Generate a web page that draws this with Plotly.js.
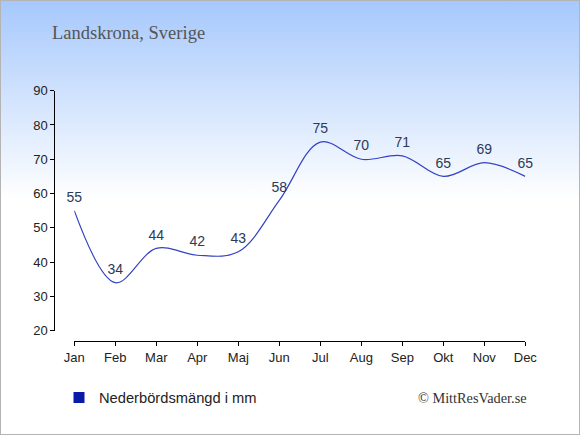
<!DOCTYPE html>
<html>
<head>
<meta charset="utf-8">
<script src="https://cdn.plot.ly/plotly-3.0.1.min.js"></script>
<style>
html,body{margin:0;padding:0;}
#wrap{position:relative;width:580px;height:435px;background:linear-gradient(to bottom,#a6c8fc 0px,#ffffff 200px,#ffffff 435px);}
#chart{position:absolute;left:0;top:0;width:580px;height:435px;}
#frame{position:absolute;left:0;top:0;width:580px;height:435px;box-sizing:border-box;border:1.5px solid #b4b4b4;pointer-events:none;}
</style>
</head>
<body>
<div id="wrap"><div id="chart"></div><div id="frame"></div></div>
<script>
const months = ["Jan","Feb","Mar","Apr","Maj","Jun","Jul","Aug","Sep","Okt","Nov","Dec"];
const precipitation = [55,34,44,42,43,58,75,70,71,65,69,65];
const yTicks = [20,30,40,50,60,70,80,90];
const seriesName = "Nederbördsmängd i mm";
const chartTitle = "Landskrona, Sverige";
const credit = "© MittResVader.se";

const W = 580, H = 435;
const idx = months.map((m,i)=>i);

const traces = [
  {
    x: idx, y: precipitation, type: "scatter", mode: "lines+markers+text",
    line: {shape: "spline", color: "#3442c4", width: 1.2},
    marker: {size: 7, color: "rgba(0,0,0,0)"},
    text: precipitation.map(String), textposition: "top center",
    textfont: {family: "Liberation Sans, Arial, sans-serif", size: 14, color: "#2b3a58"},
    showlegend: false, hoverinfo: "skip", cliponaxis: false
  },
  {
    x: [null], y: [null], type: "scatter", mode: "markers", name: seriesName,
    marker: {symbol: "square", size: 11, color: "#0a1aa8"},
    showlegend: true
  }
];

const layout = {
  width: W, height: H,
  margin: {l: 0, r: 0, t: 0, b: 0},
  paper_bgcolor: "rgba(0,0,0,0)", plot_bgcolor: "rgba(0,0,0,0)",
  font: {family: "Liberation Sans, Arial, sans-serif", color: "#222"},
  xaxis: {
    range: [0, 11], domain: [74.3/W, 525.3/W],
    anchor: "free", position: (H-341.3)/H,
    tickmode: "array", tickvals: idx, ticktext: months,
    showline: true, linecolor: "#000", linewidth: 1,
    ticks: "outside", ticklen: 4, tickcolor: "#000",
    showgrid: false, zeroline: false,
    tickfont: {size: 13, color: "#222"}, fixedrange: true
  },
  yaxis: {
    range: [20, 90], domain: [(H-330.7)/H, (H-90.7)/H],
    anchor: "free", position: 54.3/W,
    tickmode: "array", tickvals: yTicks,
    showline: true, linecolor: "#000", linewidth: 1,
    ticks: "outside", ticklen: 4, tickcolor: "#000",
    showgrid: false, zeroline: false,
    tickfont: {size: 13, color: "#222"}, fixedrange: true
  },
  legend: {
    x: 59/W, y: (H-398)/H, xanchor: "left", yanchor: "middle",
    bgcolor: "rgba(0,0,0,0)", borderwidth: 0,
    font: {family: "Liberation Sans, Arial, sans-serif", size: 14.7, color: "#222"}
  },
  annotations: [
    {text: chartTitle, xref: "paper", yref: "paper", x: 50/W, y: (H-33)/H,
     xanchor: "left", yanchor: "middle", showarrow: false,
     font: {family: "Liberation Serif, Times New Roman, serif", size: 18.5, color: "#555"}},
    {text: credit, xref: "paper", yref: "paper", x: 529/W, y: (H-398)/H,
     xanchor: "right", yanchor: "middle", showarrow: false,
     font: {family: "Liberation Serif, Times New Roman, serif", size: 14.3, color: "#333"}}
  ],
  showlegend: true
};

Plotly.newPlot("chart", traces, layout, {displayModeBar: false, staticPlot: true});
</script>
</body>
</html>
